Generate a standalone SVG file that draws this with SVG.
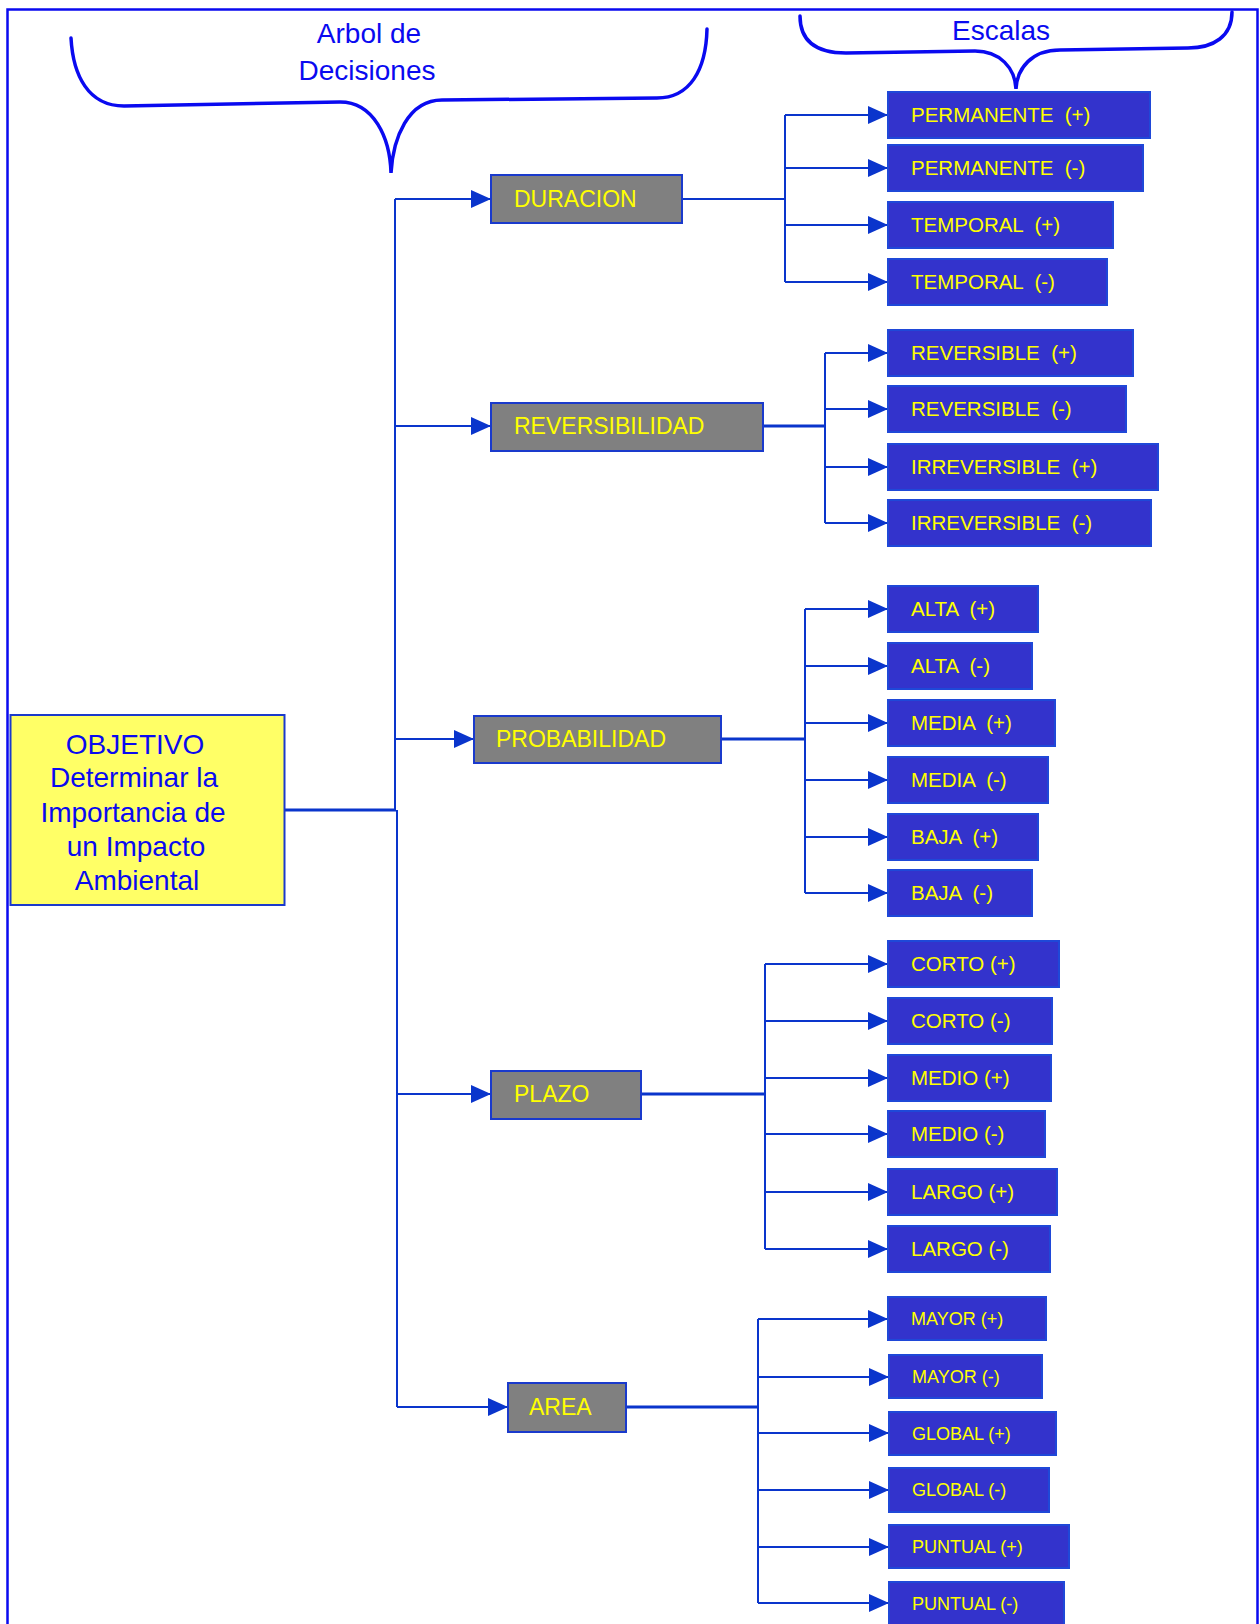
<svg xmlns="http://www.w3.org/2000/svg" width="1260" height="1624" viewBox="0 0 1260 1624">
<style>
.frame{fill:none;stroke:#0a0af0;stroke-width:2.5}
.brace{fill:none;stroke:#0a0af0;stroke-width:3.5;stroke-linecap:round}
.title{font-family:"Liberation Sans",Arial,sans-serif;font-size:28px;fill:#0a0af0;text-anchor:middle}
.obj rect{fill:#ffff66;stroke:#1a3acc;stroke-width:2}
.obj text{font-family:"Liberation Sans",Arial,sans-serif;font-size:28px;fill:#0a0af0;text-anchor:middle}
.cat rect{fill:#808080;stroke:#1a3acc;stroke-width:2}
.cat text{font-family:"Liberation Sans",Arial,sans-serif;font-size:23px;fill:#ffff00}
.leaf rect{fill:#3333cc;stroke:#1f48d8;stroke-width:2}
.leaf text{font-family:"Liberation Sans",Arial,sans-serif;font-size:20.5px;fill:#ffff00;white-space:pre}
.leaf.sm text{font-size:18px}
.conn path{fill:none;stroke:#0a35cc;stroke-width:2}
.conn path.thick{stroke-width:3}
</style>
<defs>
<marker id="ah" markerUnits="userSpaceOnUse" markerWidth="22" markerHeight="20" refX="20" refY="9" orient="auto">
<path d="M0,0 L20,9 L0,18 Z" fill="#0a35cc"/>
</marker>
</defs>
<rect width="1260" height="1624" fill="#ffffff"/>
<path class="frame" d="M7.5,1630 L7.5,9.5 L1257.5,9.5 L1257.5,1630"/>
<g id="labels">
<path class="brace" d="M71,38 C73,75 88,106 124,106 L340,102 C374,102 390,138 391,173 C393,138 408,100 442,100 L657,98 C690,98 706,70 707,29"/>
<text class="title" x="369" y="43">Arbol de</text>
<text class="title" x="367" y="80">Decisiones</text>
<path class="brace" d="M800,16 C800,40 815,53 846,53 L975,51 C1000,51 1015,68 1016,89 C1017,68 1032,50 1060,50 L1188,48 C1214,48 1232,36 1232,12"/>
<text class="title" x="1001" y="40">Escalas</text>
</g>
<g id="connectors" class="conn">
<path class="thick" d="M284,810 L396,810"/>
<path d="M395,810 L395,199"/>
<path d="M397,810 L397,1407"/>
<path d="M395,199 L491,199" marker-end="url(#ah)"/>
<path d="M395,426 L491,426" marker-end="url(#ah)"/>
<path d="M395,739 L474,739" marker-end="url(#ah)"/>
<path d="M397,1094 L491,1094" marker-end="url(#ah)"/>
<path d="M397,1407 L508,1407" marker-end="url(#ah)"/>
<path d="M682,199 L785,199"/>
<path d="M785,115 L785,282"/>
<path d="M785,115 L888,115" marker-end="url(#ah)"/>
<path d="M785,168 L888,168" marker-end="url(#ah)"/>
<path d="M785,225 L888,225" marker-end="url(#ah)"/>
<path d="M785,282 L888,282" marker-end="url(#ah)"/>
<path class="thick" d="M763,426 L825,426"/>
<path d="M825,353 L825,523"/>
<path d="M825,353 L888,353" marker-end="url(#ah)"/>
<path d="M825,409 L888,409" marker-end="url(#ah)"/>
<path d="M825,467 L888,467" marker-end="url(#ah)"/>
<path d="M825,523 L888,523" marker-end="url(#ah)"/>
<path class="thick" d="M721,739 L805,739"/>
<path d="M805,609 L805,893"/>
<path d="M805,609 L888,609" marker-end="url(#ah)"/>
<path d="M805,666 L888,666" marker-end="url(#ah)"/>
<path d="M805,723 L888,723" marker-end="url(#ah)"/>
<path d="M805,780 L888,780" marker-end="url(#ah)"/>
<path d="M805,837 L888,837" marker-end="url(#ah)"/>
<path d="M805,893 L888,893" marker-end="url(#ah)"/>
<path class="thick" d="M641,1094 L765,1094"/>
<path d="M765,964 L765,1249"/>
<path d="M765,964 L888,964" marker-end="url(#ah)"/>
<path d="M765,1021 L888,1021" marker-end="url(#ah)"/>
<path d="M765,1078 L888,1078" marker-end="url(#ah)"/>
<path d="M765,1134 L888,1134" marker-end="url(#ah)"/>
<path d="M765,1192 L888,1192" marker-end="url(#ah)"/>
<path d="M765,1249 L888,1249" marker-end="url(#ah)"/>
<path class="thick" d="M626,1407 L758,1407"/>
<path d="M758,1319 L758,1603"/>
<path d="M758,1319 L888,1319" marker-end="url(#ah)"/>
<path d="M758,1377 L889,1377" marker-end="url(#ah)"/>
<path d="M758,1433 L889,1433" marker-end="url(#ah)"/>
<path d="M758,1490 L889,1490" marker-end="url(#ah)"/>
<path d="M758,1547 L889,1547" marker-end="url(#ah)"/>
<path d="M758,1603 L889,1603" marker-end="url(#ah)"/>
</g>
<g id="objetivo" class="obj">
<rect x="10.5" y="715" width="274" height="190"/>
<text x="135" y="754">OBJETIVO</text>
<text x="134" y="787">Determinar la</text>
<text x="133" y="822">Importancia de</text>
<text x="136" y="856">un Impacto</text>
<text x="137" y="890">Ambiental</text>
</g>
<g id="duracion" class="cat"><rect x="491" y="175" width="191" height="48"/><text x="514" y="207">DURACION</text></g>
<g id="reversibilidad" class="cat"><rect x="491" y="403" width="272" height="48"/><text x="514" y="434">REVERSIBILIDAD</text></g>
<g id="probabilidad" class="cat"><rect x="474" y="716" width="247" height="47"/><text x="496" y="747">PROBABILIDAD</text></g>
<g id="plazo" class="cat"><rect x="491" y="1071" width="150" height="48"/><text x="514" y="1102">PLAZO</text></g>
<g id="area" class="cat"><rect x="508" y="1383" width="118" height="49"/><text x="529" y="1415">AREA</text></g>
<g id="permanente-pos" class="leaf"><rect x="888" y="92" width="262" height="46"/><text x="911" y="122">PERMANENTE  (+)</text></g>
<g id="permanente-neg" class="leaf"><rect x="888" y="145" width="255" height="46"/><text x="911" y="175">PERMANENTE  (-)</text></g>
<g id="temporal-pos" class="leaf"><rect x="888" y="202" width="225" height="46"/><text x="911" y="232">TEMPORAL  (+)</text></g>
<g id="temporal-neg" class="leaf"><rect x="888" y="259" width="219" height="46"/><text x="911" y="289">TEMPORAL  (-)</text></g>
<g id="reversible-pos" class="leaf"><rect x="888" y="330" width="245" height="46"/><text x="911" y="360">REVERSIBLE  (+)</text></g>
<g id="reversible-neg" class="leaf"><rect x="888" y="386" width="238" height="46"/><text x="911" y="416">REVERSIBLE  (-)</text></g>
<g id="irreversible-pos" class="leaf"><rect x="888" y="444" width="270" height="46"/><text x="911" y="474">IRREVERSIBLE  (+)</text></g>
<g id="irreversible-neg" class="leaf"><rect x="888" y="500" width="263" height="46"/><text x="911" y="530">IRREVERSIBLE  (-)</text></g>
<g id="alta-pos" class="leaf"><rect x="888" y="586" width="150" height="46"/><text x="911" y="616">ALTA  (+)</text></g>
<g id="alta-neg" class="leaf"><rect x="888" y="643" width="144" height="46"/><text x="911" y="673">ALTA  (-)</text></g>
<g id="media-pos" class="leaf"><rect x="888" y="700" width="167" height="46"/><text x="911" y="730">MEDIA  (+)</text></g>
<g id="media-neg" class="leaf"><rect x="888" y="757" width="160" height="46"/><text x="911" y="787">MEDIA  (-)</text></g>
<g id="baja-pos" class="leaf"><rect x="888" y="814" width="150" height="46"/><text x="911" y="844">BAJA  (+)</text></g>
<g id="baja-neg" class="leaf"><rect x="888" y="870" width="144" height="46"/><text x="911" y="900">BAJA  (-)</text></g>
<g id="corto-pos" class="leaf"><rect x="888" y="941" width="171" height="46"/><text x="911" y="971">CORTO (+)</text></g>
<g id="corto-neg" class="leaf"><rect x="888" y="998" width="164" height="46"/><text x="911" y="1028">CORTO (-)</text></g>
<g id="medio-pos" class="leaf"><rect x="888" y="1055" width="163" height="46"/><text x="911" y="1085">MEDIO (+)</text></g>
<g id="medio-neg" class="leaf"><rect x="888" y="1111" width="157" height="46"/><text x="911" y="1141">MEDIO (-)</text></g>
<g id="largo-pos" class="leaf"><rect x="888" y="1169" width="169" height="46"/><text x="911" y="1199">LARGO (+)</text></g>
<g id="largo-neg" class="leaf"><rect x="888" y="1226" width="162" height="46"/><text x="911" y="1256">LARGO (-)</text></g>
<g id="mayor-pos" class="leaf sm"><rect x="888" y="1297" width="158" height="43"/><text x="911" y="1325">MAYOR (+)</text></g>
<g id="mayor-neg" class="leaf sm"><rect x="889" y="1355" width="153" height="43"/><text x="912" y="1383">MAYOR (-)</text></g>
<g id="global-pos" class="leaf sm"><rect x="889" y="1412" width="167" height="43"/><text x="912" y="1440">GLOBAL (+)</text></g>
<g id="global-neg" class="leaf sm"><rect x="889" y="1468" width="160" height="44"/><text x="912" y="1496">GLOBAL (-)</text></g>
<g id="puntual-pos" class="leaf sm"><rect x="889" y="1525" width="180" height="43"/><text x="912" y="1553">PUNTUAL (+)</text></g>
<g id="puntual-neg" class="leaf sm"><rect x="889" y="1582" width="175" height="44"/><text x="912" y="1610">PUNTUAL (-)</text></g>
</svg>
